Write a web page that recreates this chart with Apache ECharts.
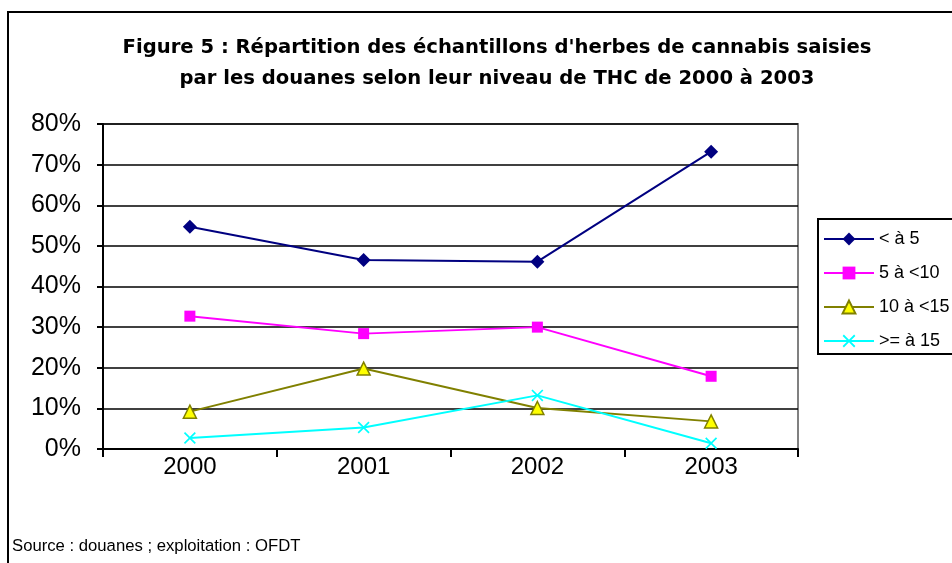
<!DOCTYPE html>
<html>
<head>
<meta charset="utf-8">
<script src="https://cdn.jsdelivr.net/npm/echarts@6/dist/echarts.min.js"></script>
<style>
  html, body { margin: 0; padding: 0; background: #fff; }
  #chart { width: 952px; height: 563px; }
</style>
</head>
<body>
<div id="chart"></div>
<script>
// years on the category axis
const years = ['2000', '2001', '2002', '2003']
// share of samples per THC level (fractions)
const lt5 = [0.547, 0.465, 0.461, 0.732]
const from5to10 = [0.327, 0.284, 0.300, 0.179]
const from10to15 = [0.092, 0.198, 0.101, 0.068]
const over15 = [0.027, 0.053, 0.132, 0.014]
const seriesNames = ['< à 5', '5 à <10', '10 à <15', '>= à 15']

const font = 'Arial, "Liberation Sans", sans-serif'
const crossPath = 'path://M0,1 L1,0 L5,4 L9,0 L10,1 L6,5 L10,9 L9,10 L5,6 L1,10 L0,9 L4,5 Z'

const chart = echarts.init(document.getElementById('chart'))

const makeSeries = (name, data, opts) => ({
  name: name,
  type: 'line',
  data: data,
  symbol: opts.symbol,
  symbolSize: opts.size,
  showAllSymbol: true,
  animation: false,
  lineStyle: { color: opts.line, width: 2 },
  itemStyle: { color: opts.fill, borderColor: opts.border || opts.fill, borderWidth: opts.borderWidth || 0 },
  emphasis: { disabled: true }
})

chart.setOption({
  backgroundColor: '#fff',
  textStyle: { fontFamily: font },
  title: {
    text: "Figure 5 : Répartition des échantillons d'herbes de cannabis saisies\npar les douanes selon leur niveau de THC de 2000 à 2003",
    left: 492,
    top: 27,
    textAlign: 'center',
    textStyle: { fontFamily: '"DejaVu Sans", Arial, sans-serif', fontSize: 19.6, fontWeight: 'bold', color: '#000', lineHeight: 31 }
  },
  graphic: [
    {
      type: 'rect',
      shape: { x: 8, y: 12, width: 980, height: 600 },
      style: { fill: 'none', stroke: '#000', lineWidth: 2 },
      z: -1
    },
    {
      type: 'rect',
      shape: { x: 818, y: 219, width: 160, height: 135 },
      style: { fill: '#fff', stroke: '#000', lineWidth: 2 },
      z: 1
    },
    {
      type: 'text',
      left: 12,
      top: 538,
      style: { text: 'Source : douanes ; exploitation : OFDT', font: '16.7px ' + font, fill: '#000' }
    }
  ],
  legend: {
    orient: 'vertical',
    left: 818,
    top: 225,
    itemWidth: 50,
    itemHeight: 16,
    itemGap: 16,
    z: 5,
    data: seriesNames,
    lineStyle: { width: 2 },
    textStyle: { fontFamily: font, fontSize: 18, color: '#000', lineHeight: 18 },
    selectedMode: false
  },
  grid: {
    left: 103,
    right: 154,
    top: 124,
    bottom: 114,
    show: true,
    borderColor: '#808080',
    borderWidth: 2,
    backgroundColor: '#fff'
  },
  xAxis: {
    type: 'category',
    data: years,
    boundaryGap: true,
    axisLine: { lineStyle: { color: '#000', width: 2 } },
    axisTick: { show: true, length: 8, lineStyle: { color: '#000', width: 2 } },
    axisLabel: { fontFamily: font, fontSize: 24, color: '#000', margin: 6 }
  },
  yAxis: {
    type: 'value',
    min: 0,
    max: 0.8,
    interval: 0.1,
    axisLine: { show: true, lineStyle: { color: '#000', width: 2 } },
    axisTick: { show: true, length: 6, lineStyle: { color: '#000', width: 2 } },
    splitLine: { lineStyle: { color: '#000', width: 1.5 } },
    axisLabel: {
      fontFamily: font,
      fontSize: 25,
      color: '#000',
      margin: 22,
      formatter: v => Math.round(v * 100) + '%'
    }
  },
  series: [
    makeSeries(seriesNames[0], lt5, { symbol: 'diamond', size: 14, line: '#000080', fill: '#000080' }),
    makeSeries(seriesNames[1], from5to10, { symbol: 'rect', size: 11, line: '#FF00FF', fill: '#FF00FF' }),
    makeSeries(seriesNames[2], from10to15, { symbol: 'triangle', size: 13, line: '#808000', fill: '#FFFF00', border: '#808000', borderWidth: 1.5 }),
    makeSeries(seriesNames[3], over15, { symbol: crossPath, size: 12, line: '#00FFFF', fill: '#00FFFF' })
  ]
})
</script>
</body>
</html>
